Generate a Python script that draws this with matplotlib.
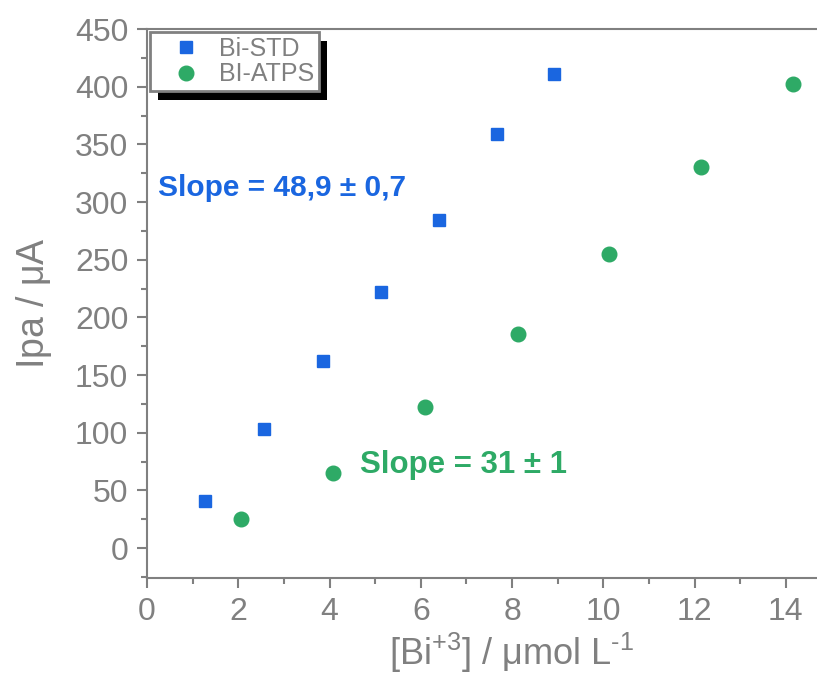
import matplotlib
matplotlib.use("Agg")
import matplotlib.pyplot as plt
from matplotlib.patches import Rectangle
from matplotlib.ticker import FixedLocator, MultipleLocator
from matplotlib.transforms import IdentityTransform

plt.rcParams["font.family"] = ["Liberation Sans", "DejaVu Sans"]
plt.rcParams["mathtext.fontset"] = "custom"
plt.rcParams["mathtext.rm"] = "Liberation Sans"

GRAY = "#808080"
BLUE = "#1a66e0"
GREEN = "#2eaa66"

# Bi-STD (squares)
std_conc = [1.28, 2.57, 3.85, 5.13, 6.40, 7.68, 8.93]
std_ipa = [41, 103, 162, 222, 284, 359, 411]

# Bi-ATPS (circles)
atps_conc = [2.05, 4.08, 6.10, 8.12, 10.13, 12.15, 14.15]
atps_ipa = [25, 65, 122, 186, 255, 330, 402]

x_ticks = [0, 2, 4, 6, 8, 10, 12, 14]

fig = plt.figure(figsize=(8.17, 6.86), dpi=100)
# axes run on past the right edge of the picture (x up to 16)
ax = fig.add_axes([0.18, 0.1574, 0.8935, 0.8003])

ax.plot(std_conc, std_ipa, "s", color=BLUE, markersize=8.8, label="Bi-STD", zorder=3)
ax.plot(atps_conc, atps_ipa, "o", color=GREEN, markersize=10.5, label="BI-ATPS", zorder=3)

ax.set_xlim(0, 16)
ax.set_ylim(-26, 450)
ax.xaxis.set_major_locator(FixedLocator(x_ticks))
ax.xaxis.set_minor_locator(MultipleLocator(1))
ax.yaxis.set_major_locator(MultipleLocator(50))
ax.yaxis.set_minor_locator(MultipleLocator(25))

for side in ["left", "bottom", "top"]:
    ax.spines[side].set_color(GRAY)
    ax.spines[side].set_linewidth(1.5)
ax.spines["right"].set_visible(False)

ax.tick_params(which="both", direction="out", color=GRAY, width=1.5, labelcolor=GRAY)
ax.tick_params(which="major", length=7.5, labelsize=23, pad=6)
ax.tick_params(which="minor", length=4)

ax.set_xlabel(r"[Bi$^{+3}$] / $\mathrm{\mu}$mol L$^{\text{-}1}$", fontsize=26, color=GRAY, labelpad=3)
ax.set_ylabel(r"Ipa / $\mathrm{\mu}$A", fontsize=27, color=GRAY, labelpad=15)

ax.text(0.24, 312, "Slope = 48,9 ± 0,7", color=BLUE, fontsize=21.5, fontweight="bold",
        ha="left", va="center")
ax.text(4.67, 72, "Slope = 31 ± 1", color=GREEN, fontsize=22.5, fontweight="bold",
        ha="left", va="center")

ax_w = 0.8935 * 817
ax_h = 0.8003 * 686
leg = ax.legend(loc="upper left", bbox_to_anchor=(3 / ax_w, 1 - 3 / ax_h), fontsize=18,
                frameon=True, fancybox=False, borderpad=0.2, handletextpad=0.05,
                labelspacing=0.05, borderaxespad=0, handlelength=2.5)
for t in leg.get_texts():
    t.set_color(GRAY)
frame = leg.get_frame()
frame.set_edgecolor(GRAY)
frame.set_linewidth(2)
frame.set_facecolor("white")
frame.set_alpha(1)
leg.set_zorder(6)

fig.canvas.draw()
bb = leg.get_window_extent()
shadow = Rectangle((bb.x0 + 8, bb.y0 - 9), bb.width, bb.height, transform=IdentityTransform(),
                   facecolor="black", edgecolor="none", zorder=5.5, clip_on=False)
ax.add_patch(shadow)

fig.savefig("out.png", dpi=100)
